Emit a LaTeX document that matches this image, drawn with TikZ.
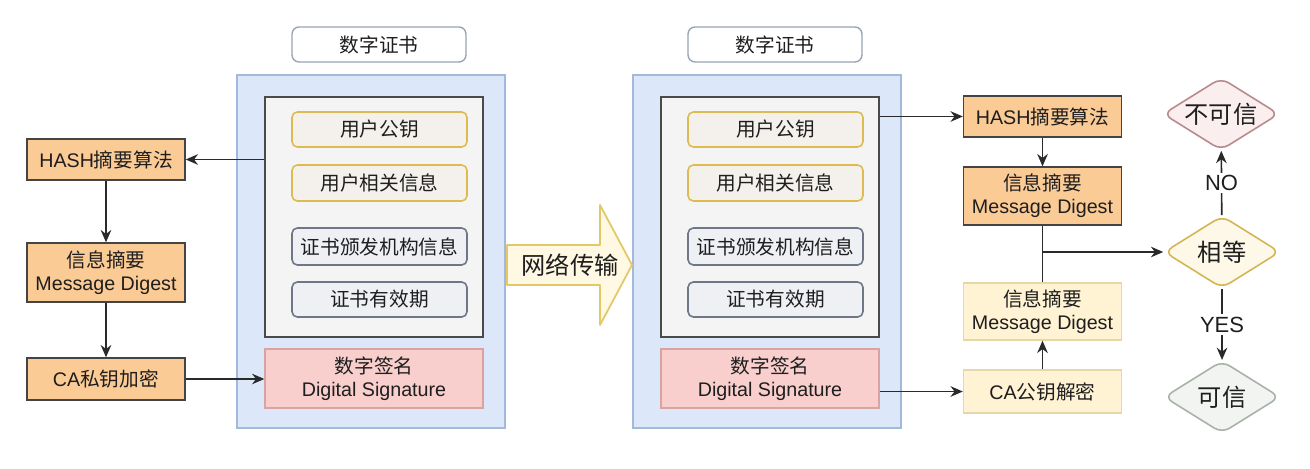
\documentclass[tikz,border=0pt]{standalone}
\usepackage{fontspec}
\setmainfont{Liberation Sans}
\newfontfamily\cjk{Noto Sans CJK SC}
\usetikzlibrary{arrows.meta, positioning, calc, shapes.geometric}
\definecolor{textdark}{HTML}{1E1E1E}
\definecolor{linedark}{HTML}{2A2A2A}
\definecolor{algofill}{HTML}{FBCB96}
\definecolor{algoborder}{HTML}{444444}
\definecolor{lightfill}{HTML}{FFF3D4}
\definecolor{lightborder}{HTML}{E6D7A6}
\definecolor{certfill}{HTML}{DCE8FA}
\definecolor{certborder}{HTML}{A3B8DA}
\definecolor{bodyfill}{HTML}{F4F4F4}
\definecolor{bodyborder}{HTML}{4A4A4A}
\definecolor{userfill}{HTML}{F4F1EC}
\definecolor{userborder}{HTML}{DDBB50}
\definecolor{issuefill}{HTML}{EEF0F4}
\definecolor{issueborder}{HTML}{6F7787}
\definecolor{signfill}{HTML}{F8CFCC}
\definecolor{signborder}{HTML}{D8A3A0}
\definecolor{titleborder}{HTML}{9AA4B2}
\definecolor{netfill}{HTML}{FFF9E4}
\definecolor{netborder}{HTML}{E3C866}
\definecolor{nofill}{HTML}{FBEEEF}
\definecolor{noborder}{HTML}{B88A8C}
\definecolor{eqfill}{HTML}{FDF8E8}
\definecolor{eqborder}{HTML}{D4B651}
\definecolor{yesfill}{HTML}{F2F4F1}
\definecolor{yesborder}{HTML}{A9B1A9}

\begin{document}
\begin{tikzpicture}[x=0.02cm, y=-0.02cm, >={Stealth[length=7pt,width=6pt]},
    base/.style={align=center, text=textdark, inner sep=1pt,
      font=\fontsize{11.2}{13.2}\selectfont},
    algobox/.style={base, draw=algoborder, fill=algofill, line width=0.8pt,
      minimum width=3.16cm},
    lightbox/.style={base, draw=lightborder, fill=lightfill, line width=0.8pt,
      minimum width=3.16cm},
    titlebox/.style={base, draw=titleborder, fill=white, rounded corners=4pt,
      line width=0.8pt, minimum width=3.48cm, minimum height=0.7cm},
    certbox/.style={draw=certborder, fill=certfill, line width=1.1pt,
      minimum width=5.36cm, minimum height=7.06cm},
    bodybox/.style={draw=bodyborder, fill=bodyfill, line width=1.1pt,
      minimum width=4.36cm, minimum height=4.8cm},
    userbox/.style={base, draw=userborder, fill=userfill, rounded corners=3pt,
      line width=0.9pt, minimum width=3.5cm, minimum height=0.7cm},
    issuebox/.style={userbox, draw=issueborder, fill=issuefill},
    signbox/.style={base, draw=signborder, fill=signfill, line width=0.8pt,
      minimum width=4.36cm, minimum height=1.18cm},
    verdict/.style={diamond, aspect=1.6, rounded corners=5pt, line width=0.9pt,
      text=textdark, inner sep=0pt, font=\cjk\fontsize{13.8}{15}\selectfont,
      minimum width=2.32cm, minimum height=1.45cm},
    flow/.style={->, line width=0.95pt, draw=linedark},
    answer/.style={fill=white, inner sep=1.5pt, text=textdark,
      font=\fontsize{12.5}{14}\selectfont}]

  \fill[white] (0,0) rectangle (1310,469);
  \useasboundingbox (0,0) rectangle (1310,469);

  % the two certificates, before and after transfer
  \foreach \dx/\s in {0/L, 396/R} {
    \node[titlebox] (title\s) at (379+\dx,44.5) {\cjk 数字证书};
    \node[certbox] (cert\s) at (371+\dx,251.5) {};
    \node[bodybox] (body\s) at (374+\dx,217) {};
    \node[userbox] (pubkey\s) at (379.5+\dx,129.5) {\cjk 用户公钥};
    \node[userbox, minimum height=0.72cm] (userinfo\s) at (379.5+\dx,183) {\cjk 用户相关信息};
    \node[issuebox, minimum height=0.74cm] (issuer\s) at (379.5+\dx,246.5) {\cjk 证书颁发机构信息};
    \node[issuebox] (valid\s) at (379.5+\dx,299.5) {\cjk 证书有效期};
    \node[signbox] (sign\s) at (374+\dx,378.5) {{\cjk 数字签名}\\Digital Signature};
  }

  % signing side
  \node[algobox, minimum height=0.82cm] (hashL) at (106,159.5) {HASH\cjk 摘要算法};
  \node[algobox, minimum height=1.18cm] (digestL) at (106,272.5) {{\cjk 信息摘要}\\Message Digest};
  \node[algobox, minimum height=0.84cm] (encryptL) at (106,379) {CA\cjk 私钥加密};

  \draw[flow] (bodyL.west |- hashL.east) -- (hashL.east);
  \draw[flow] (hashL) -- (digestL);
  \draw[flow] (digestL) -- (encryptL);
  \draw[flow] (encryptL.east) -- (encryptL.east -| signL.west);

  % transfer
  \draw[draw=netborder, fill=netfill, line width=1pt, line join=round]
    (507,245) -- (600,245) -- (600,205) -- (632,265) -- (600,325)
    -- (600,285) -- (507,285) -- cycle;
  \node[text=textdark, font=\cjk\fontsize{13.8}{15}\selectfont] (net) at (570,265) {网络传输};

  % checking side
  \node[algobox, minimum height=0.82cm] (hashR) at (1042.5,116.5) {HASH\cjk 摘要算法};
  \node[algobox, minimum height=1.16cm] (digestR) at (1042.5,196) {{\cjk 信息摘要}\\Message Digest};
  \node[lightbox, minimum height=1.14cm] (plainR) at (1042.5,311.5) {{\cjk 信息摘要}\\Message Digest};
  \node[lightbox, minimum height=0.86cm] (decryptR) at (1042.5,391.5) {CA\cjk 公钥解密};

  \node[verdict, draw=noborder, fill=nofill] (untrusted) at (1221,114) {不可信};
  \node[verdict, draw=eqborder, fill=eqfill] (equal) at (1222,252) {相等};
  \node[verdict, draw=yesborder, fill=yesfill] (trusted) at (1222,397) {可信};

  \draw[flow] (bodyR.east |- hashR.west) -- (hashR.west);
  \draw[flow] (signR.east |- decryptR.west) -- (decryptR.west);
  \draw[flow] (hashR) -- (digestR);
  \draw[flow] (decryptR) -- (plainR);
  \draw[line width=0.95pt, draw=linedark] (digestR) -- (plainR);
  \coordinate (split) at (digestR.south |- equal);
  \draw[flow] (split) -- (equal);
  \draw[flow] (equal) -- node[answer] {NO} (untrusted);
  \draw[flow] (equal) -- node[answer] {YES} (trusted);
\end{tikzpicture}
\end{document}
